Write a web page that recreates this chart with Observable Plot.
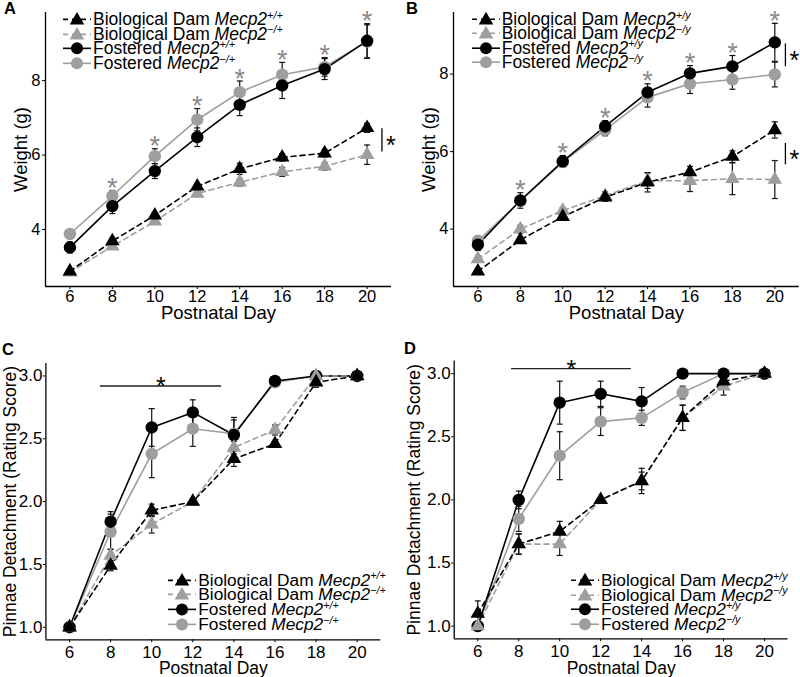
<!DOCTYPE html>
<html>
<head>
<meta charset="utf-8">
<script src="https://cdn.jsdelivr.net/npm/d3@7"></script>
<script src="https://cdn.jsdelivr.net/npm/@observablehq/plot@0.6"></script>
<style>
  html, body { margin: 0; padding: 0; background: #fff; }
  body { font-family: "Liberation Sans", Arial, Helvetica, sans-serif; color: #000; }
  #root { position: relative; width: 800px; height: 677px; overflow: hidden; }
  .panel { position: absolute; }
  .letter { position: absolute; font-weight: bold; line-height: 1; }
  .legend { position: absolute; }
  .legend .row { display: flex; align-items: center; white-space: nowrap; }
  .legend svg { flex: none; margin-right: 2px; overflow: visible; }
  .legend i { font-style: italic; }
  .legend sup { font-size: 0.62em; vertical-align: 0; position: relative; top: -0.6em; font-style: italic; line-height: 0; }
</style>
</head>
<body>
<div id="root"></div>
<script>
// ---------- data ----------
const days = [6, 8, 10, 12, 14, 16, 18, 20];

// Panel A: weight (g), females
const A_bioWT    = [2.88, 3.69, 4.38, 5.16, 5.63, 5.94, 6.05, 6.73];
const A_bioWT_se = [0.06, 0.08, 0.08, 0.08, 0.15, 0.10, 0.10, 0.12];
const A_bioKO    = [2.85, 3.55, 4.22, 4.97, 5.27, 5.55, 5.70, 6.01];
const A_bioKO_se = [0.05, 0.06, 0.06, 0.08, 0.10, 0.12, 0.10, 0.26];
const A_fosWT    = [3.52, 4.63, 5.57, 6.48, 7.35, 7.87, 8.31, 9.07];
const A_fosWT_se = [0.15, 0.20, 0.20, 0.25, 0.29, 0.35, 0.28, 0.46];
const A_fosKO    = [3.88, 4.90, 5.97, 6.95, 7.69, 8.16, 8.37, 9.05];
const A_fosKO_se = [0.10, 0.15, 0.20, 0.30, 0.30, 0.33, 0.25, 0.45];

// Panel B: weight (g), males
const B_bioWT    = [2.91, 3.72, 4.32, 4.82, 5.21, 5.47, 5.87, 6.56];
const B_bioWT_se = [0.08, 0.08, 0.08, 0.10, 0.25, 0.15, 0.15, 0.21];
const B_bioKO    = [3.23, 4.00, 4.48, 4.86, 5.25, 5.25, 5.30, 5.28];
const B_bioKO_se = [0.08, 0.10, 0.08, 0.10, 0.20, 0.28, 0.41, 0.49];
const B_fosWT    = [3.60, 4.74, 5.75, 6.65, 7.53, 8.02, 8.20, 8.82];
const B_fosWT_se = [0.15, 0.20, 0.15, 0.15, 0.22, 0.20, 0.28, 0.49];
const B_fosKO    = [3.70, 4.72, 5.73, 6.56, 7.40, 7.75, 7.86, 7.99];
const B_fosKO_se = [0.10, 0.10, 0.12, 0.15, 0.25, 0.25, 0.25, 0.32];

// Panel C: pinnae detachment, females
const C_bioWT    = [1.00, 1.49, 1.93, 2.00, 2.34, 2.46, 2.95, 3.00];
const C_bioWT_se = [0.00, 0.04, 0.05, 0.00, 0.06, 0.00, 0.04, 0.00];
const C_bioKO    = [1.00, 1.57, 1.82, 2.00, 2.43, 2.57, 3.00, 3.00];
const C_bioKO_se = [0.00, 0.05, 0.07, 0.00, 0.05, 0.04, 0.00, 0.00];
const C_fosWT    = [1.00, 1.84, 2.59, 2.71, 2.53, 2.96, 3.00, 3.00];
const C_fosWT_se = [0.00, 0.08, 0.15, 0.10, 0.12, 0.02, 0.00, 0.00];
const C_fosKO    = [1.00, 1.76, 2.38, 2.58, 2.54, 2.95, 3.00, 3.00];
const C_fosKO_se = [0.00, 0.14, 0.19, 0.14, 0.13, 0.02, 0.00, 0.00];

// Panel D: pinnae detachment, males
const D_bioWT    = [1.10, 1.65, 1.75, 2.00, 2.15, 2.65, 2.94, 3.00];
const D_bioWT_se = [0.10, 0.08, 0.08, 0.00, 0.10, 0.10, 0.06, 0.00];
const D_bioKO    = [1.00, 1.65, 1.65, 2.00, 2.15, 2.65, 2.90, 3.00];
const D_bioKO_se = [0.00, 0.08, 0.09, 0.00, 0.07, 0.10, 0.07, 0.00];
const D_fosWT    = [1.00, 2.00, 2.77, 2.84, 2.78, 3.00, 3.00, 3.00];
const D_fosWT_se = [0.00, 0.07, 0.17, 0.10, 0.11, 0.00, 0.00, 0.00];
const D_fosKO    = [1.00, 1.85, 2.35, 2.62, 2.65, 2.85, 3.00, 3.00];
const D_fosKO_se = [0.00, 0.10, 0.19, 0.11, 0.06, 0.05, 0.00, 0.00];

// significance annotations
const starDaysAB = [8, 10, 12, 14, 16, 18, 20];
const A_brackets = [{x: 20.7, y1: 6.71, y2: 6.08}];
const B_brackets = [{x: 20.5, y1: 8.78, y2: 8.19}, {x: 20.5, y1: 6.21, y2: 5.66}];
const C_sig = [{x1: 7.5, x2: 13.4, y: 2.92}];
const D_sig = [{x1: 7.65, x2: 13.5, y: 3.04}];

// labels
const weightTicks = [4, 6, 8];
const pinnaeTicks = [1.0, 1.5, 2.0, 2.5, 3.0];
const xTitle = "Postnatal Day";
const weightTitle = "Weight (g)";
const pinnaeTitle = "Pinnae Detachment (Rating Score)";
const femaleLabels = [["Biological Dam ", "Mecp2", "+/+"], ["Biological Dam ", "Mecp2", "\u2212/+"], ["Fostered ", "Mecp2", "+/+"], ["Fostered ", "Mecp2", "\u2212/+"]];
const maleLabels   = [["Biological Dam ", "Mecp2", "+/y"], ["Biological Dam ", "Mecp2", "\u2212/y"], ["Fostered ", "Mecp2", "+/y"], ["Fostered ", "Mecp2", "\u2212/y"]];

// ---------- styles ----------
const GREY = "#9e9e9e";
const STAR_GREY = "#8a8a8a";
const seriesOrder = ["fosKO", "fosWT", "bioKO", "bioWT"];
const legendOrder = ["bioWT", "bioKO", "fosWT", "fosKO"];
const styles = {
  bioWT: {color: "#000", symbol: "triangle", dash: "5,4"},
  bioKO: {color: GREY, symbol: "triangle", dash: "5,4"},
  fosWT: {color: "#000", symbol: "circle", dash: null},
  fosKO: {color: GREY, symbol: "circle", dash: null}
};
const capSymbol = {draw(ctx, size) { const r = Math.sqrt(size / Math.PI); ctx.moveTo(-r, 0); ctx.lineTo(r, 0); }};
const FONT = "'Liberation Sans', Arial, Helvetica, sans-serif";
const xDomain = [4.85, 21.15];

function tidy(d) {
  const rows = [];
  for (const s of seriesOrder) d[s][0].forEach((v, i) => rows.push({day: days[i], value: v, err: d[s][1][i], series: s}));
  return rows;
}

function makePanel(d, L) {
  const rows = tidy(d);
  const marks = [];
  marks.push(Plot.ruleX(rows, {x: "day", y1: r => r.value - r.err, y2: r => r.value + r.err, stroke: "#111", strokeWidth: 1.2}));
  marks.push(Plot.dot(rows.filter(r => r.err > 0), {x: "day", y: r => r.value + r.err, symbol: capSymbol, r: 3, stroke: "#111", fill: "none", strokeWidth: 1.2}));
  marks.push(Plot.dot(rows.filter(r => r.err > 0), {x: "day", y: r => r.value - r.err, symbol: capSymbol, r: 3, stroke: "#111", fill: "none", strokeWidth: 1.2}));
  for (const s of seriesOrder) {
    const o = {x: "day", y: "value", stroke: styles[s].color, strokeWidth: 1.6};
    if (styles[s].dash) o.strokeDasharray = styles[s].dash;
    marks.push(Plot.line(rows.filter(r => r.series === s), o));
  }
  for (const s of seriesOrder) {
    marks.push(Plot.dot(rows.filter(r => r.series === s), {
      x: "day", y: "value", symbol: styles[s].symbol,
      r: styles[s].symbol === "circle" ? L.rCircle : L.rTri,
      fill: styles[s].color, stroke: "none"
    }));
  }
  marks.push(Plot.ruleX([xDomain[0]], {stroke: "#000", strokeWidth: 1.3}));
  marks.push(Plot.ruleY([L.yDomain[0]], {stroke: "#000", strokeWidth: 1.3}));
  marks.push(Plot.axisX({ticks: days, tickSize: 3, tickPadding: L.xPad, fontSize: L.tickFont, label: null}));
  marks.push(Plot.axisX({ticks: [], tickSize: 0, label: xTitle, labelAnchor: "center", labelArrow: "none", labelOffset: L.xLabelOffset, fontSize: L.titleFont}));
  marks.push(Plot.axisY({ticks: L.yTicks, tickFormat: L.yFormat, tickSize: L.yTickSize, tickPadding: L.yPad, fontSize: L.tickFont, label: null}));
  marks.push(Plot.axisY({ticks: [], tickSize: 0, label: L.yTitle, labelAnchor: "center", labelArrow: "none", labelOffset: L.yLabelOffset, fontSize: L.titleFont}));
  if (L.stars) {
    const top = day => d3.max(rows.filter(r => r.day === day && r.series.startsWith("fos")), r => r.value + r.err);
    marks.push(Plot.text(L.stars, {x: v => v, y: v => top(v), text: () => "*", fill: STAR_GREY, fontSize: 27, lineAnchor: "middle", dy: -2}));
  }
  if (L.brackets) {
    marks.push(Plot.ruleX(L.brackets, {x: "x", y1: "y1", y2: "y2", stroke: "#000", strokeWidth: 1.3}));
    marks.push(Plot.text(L.brackets, {x: "x", y: b => (b.y1 + b.y2) / 2, text: () => "*", fill: "#000", fontSize: 25, lineAnchor: "middle", dx: 9, dy: 6}));
  }
  if (L.sig) {
    marks.push(Plot.ruleY(L.sig, {y: "y", x1: "x1", x2: "x2", stroke: "#222", strokeWidth: 1.4}));
    marks.push(Plot.text(L.sig, {x: s => (s.x1 + s.x2) / 2, y: "y", text: () => "*", fill: "#000", fontSize: 25, lineAnchor: "middle", dy: 1}));
  }
  return Plot.plot({
    width: 400, height: L.height,
    marginTop: L.mt, marginBottom: L.mb, marginLeft: L.ml, marginRight: L.mr,
    x: {domain: xDomain},
    y: {domain: L.yDomain},
    style: {fontFamily: FONT, color: "#000", background: "transparent", overflow: "visible"},
    marks
  });
}

function makeLegend(labels, pos) {
  const div = document.createElement("div");
  div.className = "legend";
  div.style.left = pos.left + "px";
  div.style.top = pos.top + "px";
  div.style.fontSize = pos.font + "px";
  legendOrder.forEach((k, i) => {
    const st = styles[k];
    const row = document.createElement("div");
    row.className = "row";
    row.style.height = pos.rowH + "px";
    row.style.lineHeight = pos.rowH + "px";
    const w = 28, h = pos.rowH;
    const ns = "http://www.w3.org/2000/svg";
    const svg = document.createElementNS(ns, "svg");
    svg.setAttribute("width", w); svg.setAttribute("height", h);
    const line = document.createElementNS(ns, "line");
    line.setAttribute("x1", 0); line.setAttribute("x2", w);
    line.setAttribute("y1", h / 2); line.setAttribute("y2", h / 2);
    line.setAttribute("stroke", st.color); line.setAttribute("stroke-width", 1.6);
    if (st.dash) line.setAttribute("stroke-dasharray", st.dash);
    svg.appendChild(line);
    const r = st.symbol === "circle" ? pos.rCircle : pos.rTri;
    const sym = d3.symbol(st.symbol === "circle" ? d3.symbolCircle : d3.symbolTriangle, Math.PI * r * r)();
    const path = document.createElementNS(ns, "path");
    path.setAttribute("d", sym);
    path.setAttribute("fill", st.color);
    path.setAttribute("transform", `translate(${w / 2},${h / 2 + (st.symbol === "circle" ? 0 : 1)})`);
    svg.appendChild(path);
    row.appendChild(svg);
    const span = document.createElement("span");
    const [a, b, c] = labels[i];
    span.appendChild(document.createTextNode(a));
    const it = document.createElement("i"); it.textContent = b; span.appendChild(it);
    const sp = document.createElement("sup"); sp.textContent = c; span.appendChild(sp);
    row.appendChild(span);
    div.appendChild(row);
  });
  return div;
}

function letter(ch, left, top, size) {
  const el = document.createElement("div");
  el.className = "letter";
  el.textContent = ch;
  el.style.left = left + "px"; el.style.top = top + "px"; el.style.fontSize = size + "px";
  return el;
}

const root = document.getElementById("root");
function place(node, left, top) {
  const wrap = document.createElement("div");
  wrap.className = "panel";
  wrap.style.left = left + "px"; wrap.style.top = top + "px";
  wrap.appendChild(node);
  root.appendChild(wrap);
}

const dataA = {bioWT: [A_bioWT, A_bioWT_se], bioKO: [A_bioKO, A_bioKO_se], fosWT: [A_fosWT, A_fosWT_se], fosKO: [A_fosKO, A_fosKO_se]};
const dataB = {bioWT: [B_bioWT, B_bioWT_se], bioKO: [B_bioKO, B_bioKO_se], fosWT: [B_fosWT, B_fosWT_se], fosKO: [B_fosKO, B_fosKO_se]};
const dataC = {bioWT: [C_bioWT, C_bioWT_se], bioKO: [C_bioKO, C_bioKO_se], fosWT: [C_fosWT, C_fosWT_se], fosKO: [C_fosKO, C_fosKO_se]};
const dataD = {bioWT: [D_bioWT, D_bioWT_se], bioKO: [D_bioKO, D_bioKO_se], fosWT: [D_fosWT, D_fosWT_se], fosKO: [D_fosKO, D_fosKO_se]};

const weightCommon = {height: 325, mt: 12, mb: 39, yTicks: weightTicks, yFormat: d3.format("d"), yTitle: weightTitle,
  tickFont: 16.5, titleFont: 18.5, xPad: 1, yPad: 2, yTickSize: 3, xLabelOffset: 32, rCircle: 6.2, rTri: 5.4, stars: starDaysAB};
const pinnaeCommon = {height: 352, yTicks: pinnaeTicks, yFormat: d3.format(".1f"), yTitle: pinnaeTitle, yDomain: [0.9, 3.1],
  tickFont: 17, titleFont: 17.5, xPad: 3, yPad: 1, yTickSize: 2.5, rCircle: 6.2, rTri: 5.4};

place(makePanel(dataA, {...weightCommon, ml: 45, mr: 9, yDomain: [2.47, 9.83], yLabelOffset: 31.5, brackets: A_brackets}), 0, 0);
place(makePanel(dataB, {...weightCommon, ml: 53, mr: 1.3, yDomain: [2.52, 9.59], yLabelOffset: 31.3, brackets: B_brackets}), 400, 0);
place(makePanel(dataC, {...pinnaeCommon, mt: 37.9, mb: 37.7, ml: 45.4, mr: 19.7, yLabelOffset: 42.5, xLabelOffset: 34.3, sig: C_sig}), 0, 325);
place(makePanel(dataD, {...pinnaeCommon, mt: 35.5, mb: 38.7, ml: 53.7, mr: 12.4, yLabelOffset: 46.4, xLabelOffset: 35.3, sig: D_sig}), 400, 325);

root.appendChild(makeLegend(femaleLabels, {left: 63, top: 12, font: 17.5, rowH: 14.7, rCircle: 6, rTri: 5.4}));
root.appendChild(makeLegend(maleLabels, {left: 471.7, top: 12, font: 17.5, rowH: 14.4, rCircle: 6, rTri: 5.4}));
root.appendChild(makeLegend(femaleLabels, {left: 168.3, top: 572.7, font: 17.3, rowH: 14.8, rCircle: 6, rTri: 5.4}));
root.appendChild(makeLegend(maleLabels, {left: 571, top: 573, font: 17.3, rowH: 14.5, rCircle: 6, rTri: 5.4}));

root.appendChild(letter("A", 4, 0, 16.5));
root.appendChild(letter("B", 406, 0, 16.5));
root.appendChild(letter("C", 2, 341, 16.5));
root.appendChild(letter("D", 404, 339.5, 16.5));
</script>
</body>
</html>
